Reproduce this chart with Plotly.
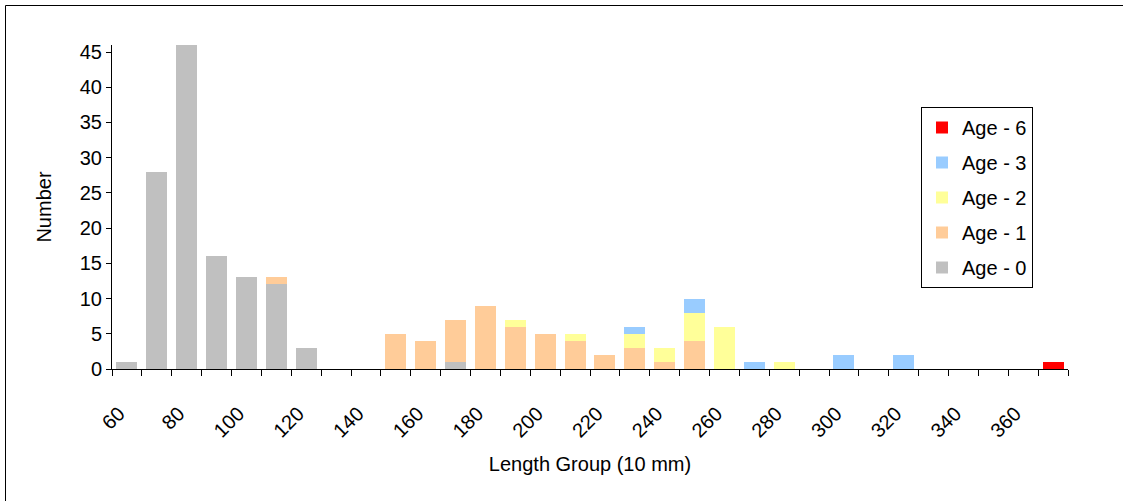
import plotly.graph_objects as go

lengths = list(range(60, 380, 10))
age0 = [1, 28, 46, 16, 13, 12, 3, 0, 0, 0, 0, 1, 0, 0, 0, 0, 0, 0, 0, 0, 0, 0, 0, 0, 0, 0, 0, 0, 0, 0, 0, 0]
age1 = [0, 0, 0, 0, 0, 1, 0, 0, 0, 5, 4, 6, 9, 6, 5, 4, 2, 3, 1, 4, 0, 0, 0, 0, 0, 0, 0, 0, 0, 0, 0, 0]
age2 = [0, 0, 0, 0, 0, 0, 0, 0, 0, 0, 0, 0, 0, 1, 0, 1, 0, 2, 2, 4, 6, 0, 1, 0, 0, 0, 0, 0, 0, 0, 0, 0]
age3 = [0, 0, 0, 0, 0, 0, 0, 0, 0, 0, 0, 0, 0, 0, 0, 0, 0, 1, 0, 2, 0, 1, 0, 0, 2, 0, 2, 0, 0, 0, 0, 0]
age6 = [0, 0, 0, 0, 0, 0, 0, 0, 0, 0, 0, 0, 0, 0, 0, 0, 0, 0, 0, 0, 0, 0, 0, 0, 0, 0, 0, 0, 0, 0, 0, 1]

series = [
    ("Age - 0", age0, "#C0C0C0"),
    ("Age - 1", age1, "#FFCC99"),
    ("Age - 2", age2, "#FFFF99"),
    ("Age - 3", age3, "#99CCFF"),
    ("Age - 6", age6, "#FF0000"),
]
x_ticks = list(range(60, 380, 20))

FONT = "Arial, Liberation Sans, sans-serif"
FS = 20

fig = go.Figure()
for i, (name, vals, color) in enumerate(series):
    fig.add_trace(go.Bar(
        x=lengths, y=vals, name=name, legendgroup=name,
        legendrank=100 - i,
        marker=dict(color=color, line=dict(width=0)),
    ))

L, T, W, H = 112, 45, 956, 324
fig.update_layout(
    width=1123, height=501,
    margin=dict(l=L, r=1123 - L - W, t=T, b=501 - T - H),
    barmode="stack", bargap=0.3,
    plot_bgcolor="white", paper_bgcolor="white",
    font=dict(family=FONT, size=FS, color="black"),
    xaxis=dict(
        range=[55, 375], tickvals=x_ticks, ticktext=[str(v) for v in x_ticks],
        tickangle=-45, ticks="", showline=True, linecolor="black", linewidth=1,
        showgrid=False, zeroline=False, ticklabelstandoff=24, ticklabelshift=-8,
        minor=dict(tick0=55, dtick=10, ticks="outside", ticklen=6, tickcolor="black", showgrid=False),
        title=dict(text="Length Group (10 mm)", font=dict(size=FS), standoff=16),
        tickfont=dict(size=FS),
    ),
    yaxis=dict(
        range=[0, 46], tickvals=list(range(0, 50, 5)), ticks="outside", ticklen=5,
        tickcolor="black", showline=True, linecolor="black", linewidth=1,
        showgrid=False, zeroline=False, tickfont=dict(size=FS),
        title=dict(text="Number", font=dict(size=FS), standoff=22),
    ),
    legend=dict(
        x=(921 - L) / W, y=(T + H - 107) / H, xanchor="left", yanchor="top",
        bordercolor="black", borderwidth=1, bgcolor="white",
        traceorder="grouped", tracegroupgap=6,
        font=dict(size=FS),
    ),
    shapes=[
        dict(type="line", xref="paper", yref="paper",
             x0=(5.5 - L) / W, x1=(5.5 - L) / W,
             y0=(T + H - 501) / H, y1=(T + H - 5.5) / H,
             line=dict(color="black", width=1), layer="below"),
        dict(type="line", xref="paper", yref="paper",
             x0=(5.5 - L) / W, x1=(1123 - L) / W,
             y0=(T + H - 5.5) / H, y1=(T + H - 5.5) / H,
             line=dict(color="black", width=1), layer="below"),
    ],
)

fig.write_html("out.html")
